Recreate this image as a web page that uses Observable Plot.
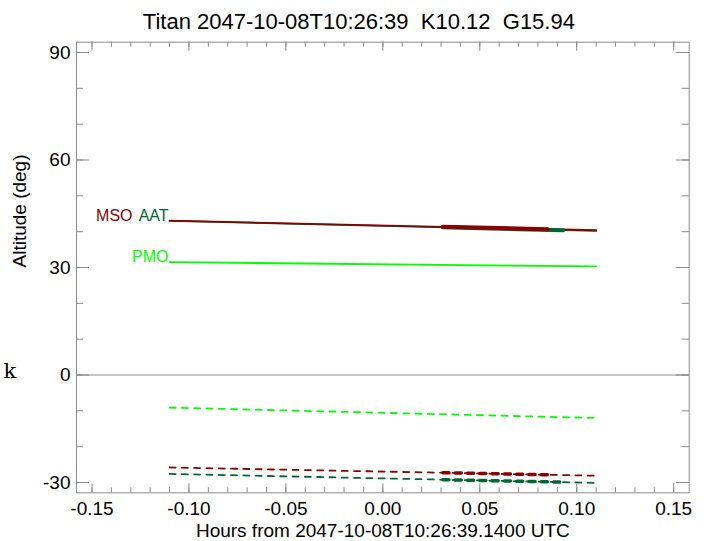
<!DOCTYPE html>
<html><head><meta charset="utf-8">
<script src="https://cdn.jsdelivr.net/npm/d3@7"></script>
<script src="https://cdn.jsdelivr.net/npm/@observablehq/plot@0.6"></script>
<style>body{margin:0;background:#fff}</style>
</head><body><div id="chart"></div>
<script>
// ---- data ----
const hours = [-0.11, 0.11];
const msoAlt = [43.06, 40.40];
const aatAlt = [43.00, 40.20];
const pmoAlt = [31.5, 30.3];
const msoDepr = [-25.8, -28.1];
const aatDepr = [-27.6, -30.1];
const pmoDepr = [-9.1, -12.0];
const msoWindow = [0.031, 0.085];
const msoWindowAlt = [41.35, 40.70];
const msoWindowDepr = [-27.27, -27.84];
const aatWindow = [0.031, 0.093];
const aatWindowAlt = [41.20, 40.42];
const aatWindowDepr = [-29.2, -29.91];

const xMajor = [-0.15, -0.10, -0.05, 0.00, 0.05, 0.10, 0.15];
const xTickLabels = ["-0.15", "-0.10", "-0.05", "0.00", "0.05", "0.10", "0.15"];
const xMinor = [-0.15,-0.14,-0.13,-0.12,-0.11,-0.10,-0.09,-0.08,-0.07,-0.06,-0.05,-0.04,-0.03,-0.02,-0.01,0,
  0.01,0.02,0.03,0.04,0.05,0.06,0.07,0.08,0.09,0.10,0.11,0.12,0.13,0.14,0.15];
const yMajor = [-30, 0, 30, 60, 90];
const yTickLabels = ["-30", "0", "30", "60", "90"];
const yMinor = [-30, -20, -10, 0, 10, 20, 30, 40, 50, 60, 70, 80, 90];

const title = "Titan 2047-10-08T10:26:39  K10.12  G15.94";
const xLabel = "Hours from 2047-10-08T10:26:39.1400 UTC";
const yLabel = "Altitude (deg)";

// ---- styles ----
const RED = "#8c0000", GREEN = "#006633", LIME = "#00ff00", GRAY = "#8a8a8a";
const W = 706, H = 541, mL = 76, mR = 17.3, mT = 41.7, mB = 48.7;
const innerW = W - mL - mR, innerH = H - mT - mB;
const DASH = "6,6.3";

const pts = (xs, ys) => xs.map((x, i) => ({x, y: ys[i]}));

const chart = Plot.plot({
  width: W, height: H,
  marginLeft: mL, marginRight: mR, marginTop: mT, marginBottom: mB,
  x: {domain: [-0.158, 0.158]},
  y: {domain: [-32.87, 92.87]},
  style: {fontFamily: "'Liberation Sans', Arial, sans-serif", fontSize: "19px", color: "#000", background: "#fff", overflow: "visible"},
  marks: [
    Plot.frame({stroke: GRAY}),
    Plot.ruleY([0], {stroke: GRAY}),
    // ticks (inward)
    Plot.ruleX(xMajor, {stroke: GRAY, insetTop: innerH - 9}),
    Plot.ruleX(xMajor, {stroke: GRAY, insetBottom: innerH - 9}),
    Plot.ruleX(xMinor, {stroke: GRAY, insetTop: innerH - 5}),
    Plot.ruleX(xMinor, {stroke: GRAY, insetBottom: innerH - 5}),
    Plot.ruleY(yMajor, {stroke: GRAY, insetRight: innerW - 13}),
    Plot.ruleY(yMajor, {stroke: GRAY, insetLeft: innerW - 13}),
    Plot.ruleY(yMinor, {stroke: GRAY, insetRight: innerW - 7}),
    Plot.ruleY(yMinor, {stroke: GRAY, insetLeft: innerW - 7}),
    Plot.axisX(xMajor, {anchor: "bottom", tickSize: 0, tickPadding: 9, tickFormat: (d, i) => xTickLabels[i], label: null, fill: "#000"}),
    Plot.axisY(yMajor, {anchor: "left", tickSize: 0, tickPadding: 6, tickFormat: (d, i) => yTickLabels[i], label: null, fill: "#000"}),
    // dashed (below horizon)
    Plot.line(pts(hours, aatDepr), {x: "x", y: "y", stroke: GREEN, strokeWidth: 1.8, strokeDasharray: DASH}),
    Plot.line(pts(hours, msoDepr), {x: "x", y: "y", stroke: RED, strokeWidth: 1.8, strokeDasharray: DASH}),
    Plot.line(pts(hours, pmoDepr), {x: "x", y: "y", stroke: LIME, strokeWidth: 1.8, strokeDasharray: DASH}),
    Plot.line(pts(aatWindow, aatWindowDepr), {x: "x", y: "y", stroke: GREEN, strokeWidth: 3.5, strokeDasharray: DASH}),
    Plot.line(pts(msoWindow, msoWindowDepr), {x: "x", y: "y", stroke: RED, strokeWidth: 3.5, strokeDasharray: DASH}),
    // solid (altitude)
    Plot.line(pts(hours, pmoAlt), {x: "x", y: "y", stroke: LIME, strokeWidth: 1.8}),
    Plot.line(pts(hours, aatAlt), {x: "x", y: "y", stroke: GREEN, strokeWidth: 1.8}),
    Plot.line(pts(hours, msoAlt), {x: "x", y: "y", stroke: RED, strokeWidth: 1.8}),
    Plot.line(pts(aatWindow, aatWindowAlt), {x: "x", y: "y", stroke: GREEN, strokeWidth: 4}),
    Plot.line(pts(msoWindow, msoWindowAlt), {x: "x", y: "y", stroke: RED, strokeWidth: 4}),
    // series labels
    Plot.text([{x: hours[0], y: aatAlt[0], t: "AAT"}], {x: "x", y: "y", text: "t", fill: GREEN, fontSize: 16, textAnchor: "end", lineAnchor: "bottom", dx: -1, dy: 0}),
    Plot.text([{x: hours[0], y: msoAlt[0], t: "MSO"}], {x: "x", y: "y", text: "t", fill: RED, fontSize: 16, textAnchor: "end", lineAnchor: "bottom", dx: -37, dy: 0}),
    Plot.text([{x: hours[0], y: pmoAlt[0], t: "PMO"}], {x: "x", y: "y", text: "t", fill: LIME, fontSize: 16, textAnchor: "end", lineAnchor: "bottom", dx: -1, dy: 0}),
    // titles
    Plot.text([title], {frameAnchor: "top", lineAnchor: "middle", dy: -20, dx: -24, fontSize: 22, fill: "#000"}),
    Plot.text([xLabel], {frameAnchor: "bottom", lineAnchor: "middle", dy: 38, fontSize: 19, fill: "#000"}),
    Plot.text([yLabel], {frameAnchor: "left", lineAnchor: "middle", dx: -57, rotate: -90, fontSize: 19, fill: "#000"}),
    Plot.text([{y: 0, t: "k"}], {y: "y", text: "t", frameAnchor: "left", dx: -73, dy: 3, textAnchor: "start", lineAnchor: "bottom", fontFamily: "'DejaVu Serif', serif", fontSize: 21, fill: "#000"})
  ]
});
document.getElementById("chart").appendChild(chart);
</script>
</body></html>
